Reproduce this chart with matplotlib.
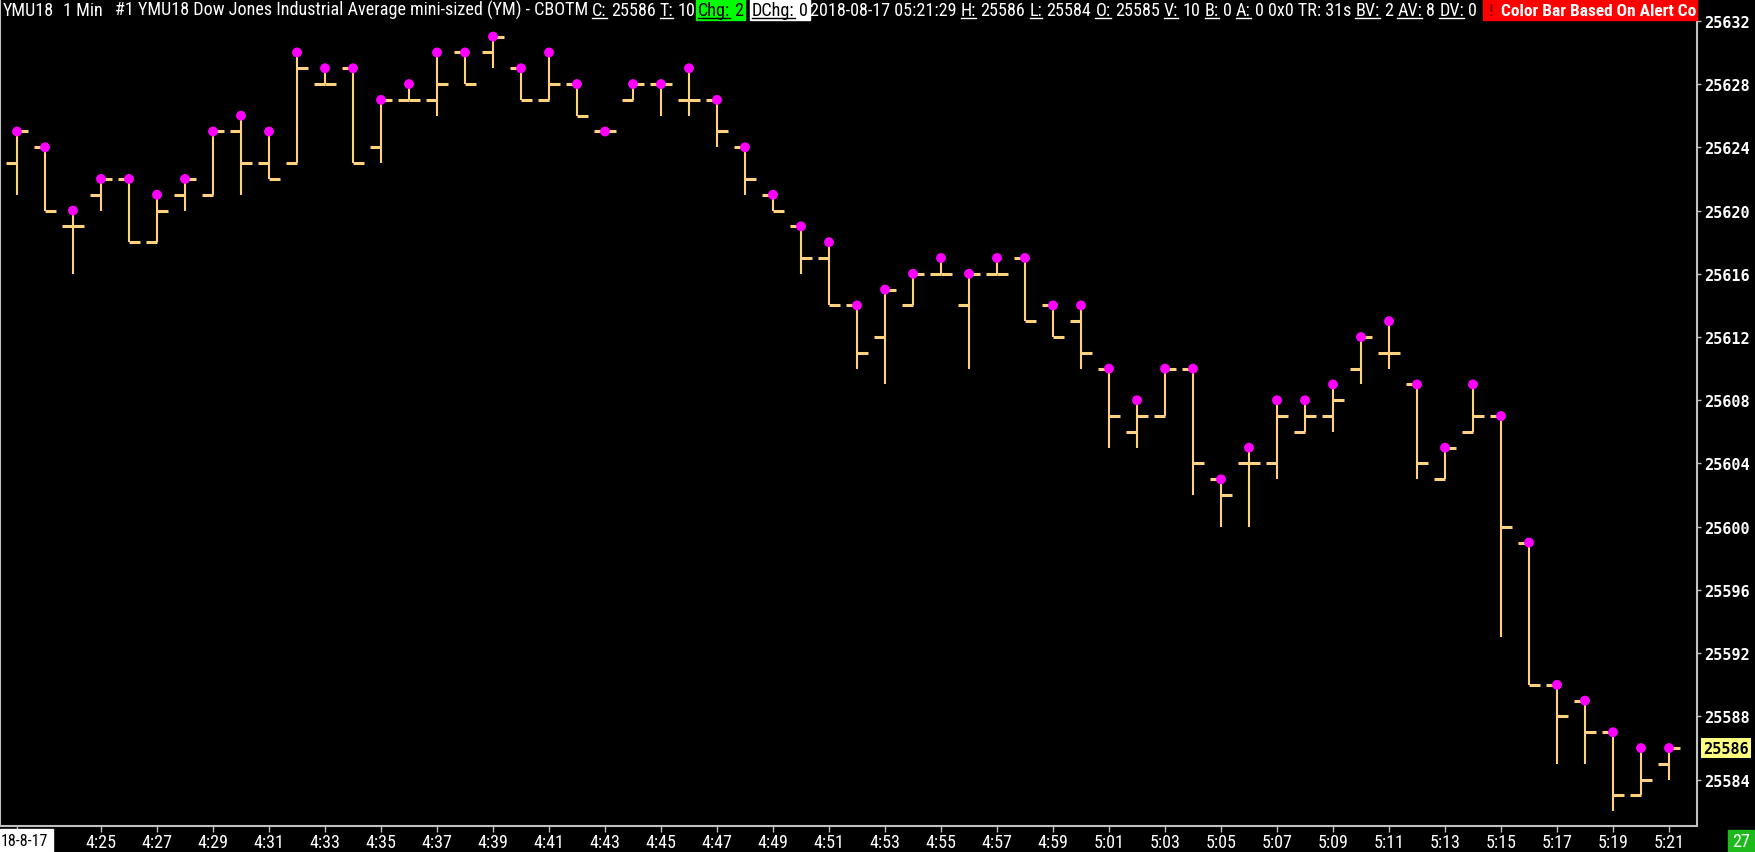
"""
YMU18 1 Min - barras OHLC com ponto na máxima, estilo de plataforma de trading.
"""

import matplotlib
matplotlib.use("Agg")
import matplotlib.pyplot as plt
import numpy as np
import pandas as pd
from matplotlib import font_manager
from matplotlib.patches import Rectangle
from matplotlib.lines import Line2D
from matplotlib.transforms import IdentityTransform, Bbox

W, H, DPI = 1755, 853, 100

BAR_COLOR = "#FFD27F"
HIGH_COLOR = "#FF00FF"
FRAME_GRAY = "#C0C0C0"
PRICE_FONT = "DejaVu Sans Mono"

# fonte estreita parecida com Calibri, se existir; senão Lato
_available = {f.name for f in font_manager.fontManager.ttflist}
_narrow = [n for n in ("Liberation Sans Narrow", "Roboto Condensed",
                       "Open Sans Condensed") if n in _available]
TEXT_FONT = _narrow[0] if _narrow else "Lato"
TICK_SIZE = 13 if _narrow else 12

# --- dados (barras de 1 minuto, 04:22 a 05:21) ---
minutes = pd.date_range("2018-08-17 04:22", periods=60, freq="min")

opens = [25623, 25624, 25619, 25621, 25622, 25618, 25621, 25621, 25625, 25623,
         25623, 25628, 25629, 25624, 25627, 25627, 25630, 25630, 25629, 25627,
         25628, 25625, 25627, 25628, 25627, 25627, 25624, 25621, 25619, 25617,
         25614, 25612, 25614, 25616, 25614, 25616, 25617, 25614, 25613, 25610,
         25606, 25607, 25610, 25603, 25604, 25604, 25606, 25607, 25610, 25611,
         25609, 25603, 25606, 25607, 25599, 25590, 25589, 25587, 25583, 25585]
highs = [25625, 25624, 25620, 25622, 25622, 25621, 25622, 25625, 25626, 25625,
         25630, 25629, 25629, 25627, 25628, 25630, 25630, 25631, 25629, 25630,
         25628, 25625, 25628, 25628, 25629, 25627, 25624, 25621, 25619, 25618,
         25614, 25615, 25616, 25617, 25616, 25617, 25617, 25614, 25614, 25610,
         25608, 25610, 25610, 25603, 25605, 25608, 25608, 25609, 25612, 25613,
         25609, 25605, 25609, 25607, 25599, 25590, 25589, 25587, 25586, 25586]
lows = [25621, 25620, 25616, 25620, 25618, 25618, 25620, 25621, 25621, 25622,
        25623, 25628, 25623, 25623, 25627, 25626, 25628, 25629, 25627, 25627,
        25626, 25625, 25627, 25626, 25626, 25624, 25621, 25620, 25616, 25614,
        25610, 25609, 25614, 25616, 25610, 25616, 25613, 25612, 25610, 25605,
        25605, 25607, 25602, 25600, 25600, 25603, 25606, 25606, 25609, 25610,
        25603, 25603, 25606, 25593, 25590, 25585, 25585, 25582, 25583, 25584]
closes = [25625, 25620, 25619, 25622, 25618, 25620, 25622, 25625, 25623, 25622,
          25629, 25628, 25623, 25627, 25627, 25628, 25628, 25631, 25627, 25628,
          25626, 25625, 25628, 25628, 25627, 25625, 25622, 25620, 25617, 25614,
          25611, 25615, 25616, 25616, 25616, 25616, 25613, 25612, 25611, 25607,
          25607, 25610, 25604, 25602, 25604, 25607, 25607, 25608, 25612, 25611,
          25604, 25605, 25607, 25600, 25590, 25588, 25587, 25583, 25584, 25586]

price_ticks = list(range(25584, 25633, 4))
last_price = 25586
date_label = "18-8-17"
bar_count_label = "27"

# cabeçalho em blocos: (x inicial, x final, peças)
# peça = (texto, espaços antes, cor, fundo, sublinhado)
header = [
    (3, 587, [
        ("YMU18", 0, "white", None, False),
        ("1 Min", 2, "white", None, False),
        ("#1 YMU18 Dow Jones Industrial Average mini-sized (YM) - CBOTM", 3,
         "white", None, False),
    ]),
    (592, 695, [
        ("C:", 0, "white", None, True), ("25586", 1, "white", None, False),
        ("T:", 1, "white", None, True), ("10", 1, "white", None, False),
    ]),
    (698, 736, [
        ("Chg:", 0, "black", "#00FF00", True), ("2", 1, "black", "#00FF00", False),
    ]),
    (752, 803, [
        ("DChg:", 0, "black", "white", True), ("0", 1, "black", "white", False),
    ]),
    (810, 955, [
        ("2018-08-17 05:21:29", 0, "white", None, False),
    ]),
    (961, 1477, [
        ("H:", 0, "white", None, True), ("25586", 1, "white", None, False),
        ("L:", 1, "white", None, True), ("25584", 1, "white", None, False),
        ("O:", 1, "white", None, True), ("25585", 1, "white", None, False),
        ("V:", 1, "white", None, True), ("10", 1, "white", None, False),
        ("B:", 1, "white", None, True), ("0", 1, "white", None, False),
        ("A:", 1, "white", None, True), ("0 0x0 TR: 31s", 1, "white", None, False),
        ("BV:", 1, "white", None, True), ("2", 1, "white", None, False),
        ("AV:", 1, "white", None, True), ("8", 1, "white", None, False),
        ("DV:", 1, "white", None, True), ("0", 1, "white", None, False),
    ]),
]
alert_text = "Color Bar Based On Alert Co"


def text_width(fig, renderer, s, size, weight="normal"):
    t = fig.text(0, 0, s, fontsize=size, family=TEXT_FONT, weight=weight)
    w = t.get_window_extent(renderer).width
    t.remove()
    return w


def draw_header(fig, renderer):
    """Escreve o cabeçalho bloco a bloco; um só tamanho, reduzido se não couber."""
    px = IdentityTransform()
    base = H - 16
    ref_size = 12.0
    ref_space = text_width(fig, renderer, "x x", ref_size) - text_width(fig, renderer, "xx", ref_size)

    def fitted(x0, x1, pieces):
        natural = sum(text_width(fig, renderer, p[0], ref_size) + p[1] * ref_space
                      for p in pieces)
        return ref_size * (x1 - x0) / natural

    common = float(np.clip(fitted(*header[0]), 10.0, 14.0))

    for x0, x1, pieces in header:
        bg = pieces[0][3]
        size = common if bg is not None else min(common, fitted(x0, x1, pieces) * 1.04)
        space = ref_space * size / ref_size
        cur = x0
        first = None
        for text, gap, fg, _, ul in pieces:
            cur += gap * space
            t = fig.text(cur, base, text, transform=px, color=fg, fontsize=size,
                         family=TEXT_FONT, va="baseline", ha="left", zorder=3)
            bb = t.get_window_extent(renderer)
            if ul:
                fig.add_artist(Line2D([bb.x0, bb.x1], [base - 3, base - 3],
                                      transform=px, color=fg, lw=1.0, zorder=3))
            first = bb.x0 if first is None else first
            cur = bb.x1
        if bg is not None:
            fig.add_artist(Rectangle((first - 2, H - 21), cur - first + 4, 21,
                                     transform=px, color=bg, zorder=2))

    # caixa vermelha do alerta, cortada na borda do gráfico
    fig.add_artist(Rectangle((1483, H - 21), 1697 - 1483, 21,
                             transform=px, color="#FF0000", zorder=2))
    fig.text(1489, base, "!", transform=px, color="#A00000", fontsize=12.5,
             family=TEXT_FONT, weight="bold", va="baseline", zorder=3)
    t = fig.text(1501, base, alert_text, transform=px, color="white",
                 fontsize=12.5, family=TEXT_FONT, weight="bold",
                 va="baseline", zorder=3)
    t.set_clip_box(Bbox([[0, 0], [1697, H]]))
    t.set_clip_on(True)


def main():
    fig = plt.figure(figsize=(W / DPI, H / DPI), dpi=DPI, facecolor="black")
    ax = fig.add_axes([0, 26 / H, 1697 / W, 827 / H], facecolor="black")

    x = np.arange(len(opens))
    ax.vlines(x, lows, highs, color=BAR_COLOR, lw=1.5, zorder=2)
    ax.hlines(opens, x - 0.39, x, color=BAR_COLOR, lw=2.2, zorder=2)
    ax.hlines(closes, x, x + 0.39, color=BAR_COLOR, lw=2.2, zorder=2)
    ax.scatter(x, highs, s=50, color=HIGH_COLOR, edgecolors="none", zorder=3)

    ax.set_xlim(-17 / 28, 1680 / 28)
    ax.set_ylim(25581.07, 25633.38)

    for side in ("left", "right", "bottom"):
        ax.spines[side].set_color(FRAME_GRAY)
        ax.spines[side].set_linewidth(1.5)
    ax.spines["top"].set_visible(False)

    # eixo de tempo: rótulos nos minutos ímpares
    tick_pos = [0] + list(range(3, len(minutes), 2))
    tick_lab = [""] + [f"{m.hour}:{m.minute:02d}" for m in minutes[3::2]]
    ax.set_xticks(tick_pos)
    ax.set_xticklabels(tick_lab, color="white", fontsize=TICK_SIZE, family=TEXT_FONT)
    ax.tick_params(axis="x", colors=FRAME_GRAY, length=4, width=1, pad=1,
                   labelcolor="white")

    # eixo de preço à direita
    ax.yaxis.tick_right()
    ax.set_yticks(price_ticks)
    ax.set_yticklabels([str(p) for p in price_ticks], color="white",
                       fontsize=11, family=PRICE_FONT, weight="bold")
    ax.tick_params(axis="y", colors=FRAME_GRAY, length=3, width=1, pad=2,
                   labelcolor="white")

    ax.text(1.0 + 6 / 1697, last_price, str(last_price),
            transform=ax.get_yaxis_transform(),
            color="black", fontsize=11, family=PRICE_FONT, weight="bold",
            ha="left", va="center", clip_on=False,
            bbox=dict(boxstyle="square,pad=0.15", fc="#FFFF80", ec="none"))

    px = IdentityTransform()
    fig.add_artist(Rectangle((0, 0), 53, 23, transform=px, color="white", zorder=2))
    fig.text(1, 11, date_label, transform=px, color="black",
             fontsize=TICK_SIZE - 1.5, family=TEXT_FONT, va="center", zorder=3)
    fig.add_artist(Rectangle((1728, 0), 26, 22, transform=px, color="#1DB91D", zorder=2))
    fig.text(1741, 11, bar_count_label, transform=px, color="white",
             fontsize=TICK_SIZE, family=TEXT_FONT, ha="center", va="center", zorder=3)

    renderer = fig.canvas.get_renderer()
    draw_header(fig, renderer)

    fig.savefig("out.png", dpi=DPI, facecolor="black")
    plt.close(fig)


if __name__ == "__main__":
    main()
